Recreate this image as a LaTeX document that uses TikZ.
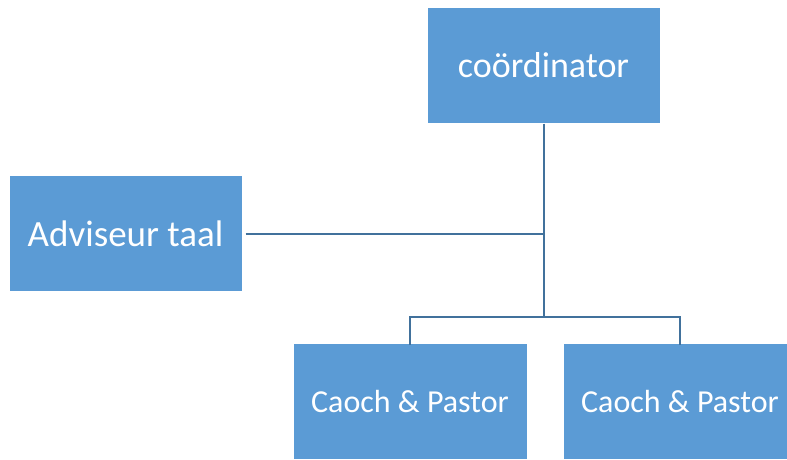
\documentclass[tikz,border=0pt]{standalone}
\usepackage{fontspec}
\setmainfont{Carlito}
\usepackage{xcolor}
\usepackage{tikz}
\usetikzlibrary{positioning}
\definecolor{box1}{HTML}{5B9BD5}
\definecolor{line1}{HTML}{41719C}

\begin{document}
\begin{tikzpicture}[
    x=1pt, y=-1pt,
    role/.style={draw=white, line width=1pt, fill=box1, text=white,
                 inner sep=0pt, minimum width=233pt, minimum height=116pt},
    link/.style={line1, line width=2pt},
]
\useasboundingbox (0,0) rectangle (787,459);
\clip (0,0) rectangle (787,459);

% ── boxes ──
\node[role, font=\fontsize{36}{43}\selectfont]
    (coord) at (543.5,65) {coördinator};
\node[role, font=\fontsize{37}{44}\selectfont]
    (adv) at (125.5,233.5) {Adviseur taal};
\node[role, minimum width=234pt, font=\fontsize{32}{38}\selectfont]
    (cp1) at (410,401) {Caoch \& Pastor};
\node[role, minimum width=234pt, font=\fontsize{32}{38}\selectfont]
    (cp2) at (680,401) {Caoch \& Pastor};

% ── connectors ──
\coordinate (jn) at (coord.south |- 0,317);
\draw[link] (coord.south) -- (jn);
\draw[link] ([xshift=3pt]adv.east) -- (adv.east -| coord.south);
\draw[link] ([yshift=-2pt]cp1.north) |- (jn) -| ([yshift=-2pt]cp2.north);

\end{tikzpicture}
\end{document}
